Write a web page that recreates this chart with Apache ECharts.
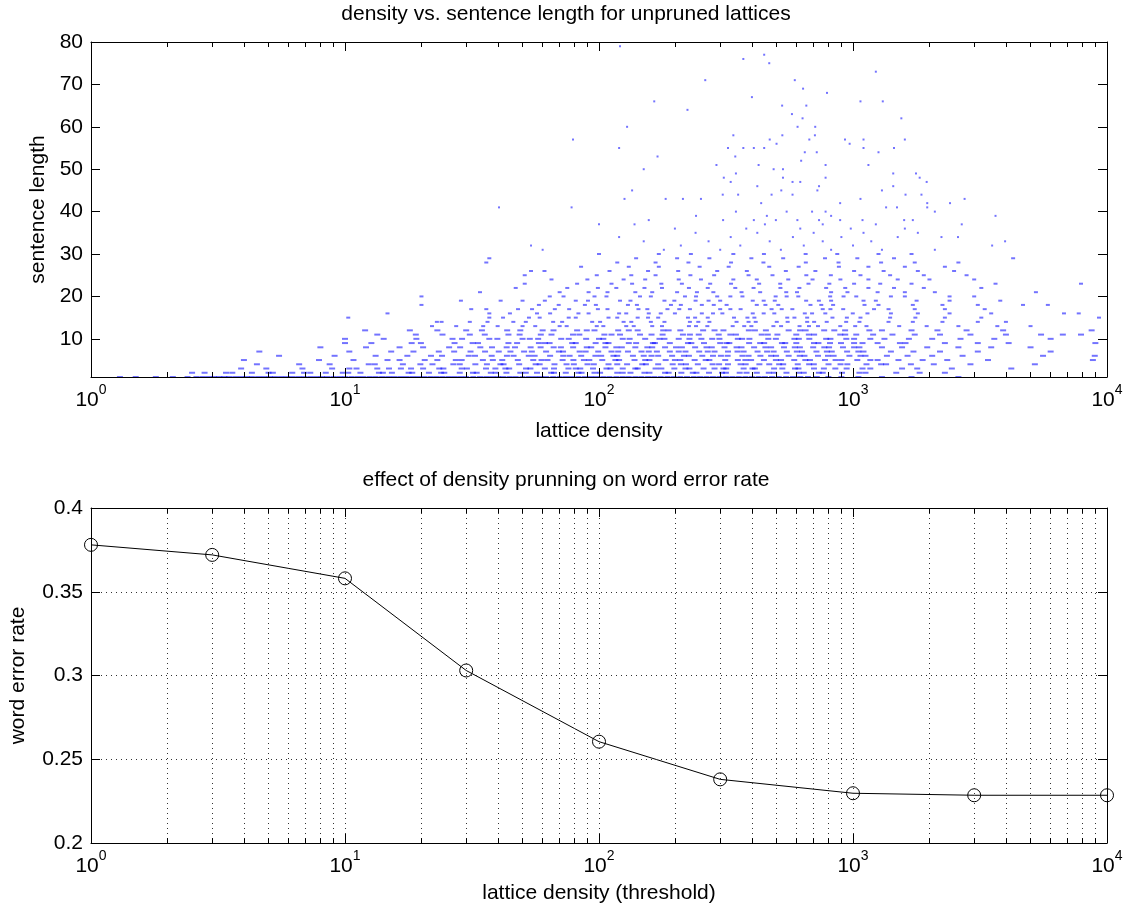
<!DOCTYPE html>
<html>
<head>
<meta charset="utf-8">
<title>lattice density</title>
<script src="https://cdn.jsdelivr.net/npm/echarts@6.0.0/dist/echarts.min.js"></script>
<style>
  html, body { margin: 0; padding: 0; background: #fff; }
  #chart { width: 1132px; height: 913px; }
</style>
</head>
<body>
<div id="chart"></div>
<script>
'use strict';

/* data: top plot, lattice density per sentence, grouped by sentence length */
var rowsShort = [
  [1, [1.3, 1.5, 1.8, 2.1, 2.4, 2.6, 2.75, 2.9, 3.05, 3.2, 3.35, 3.5, 3.7, 3.9, 4.1, 4.3, 4.55, 4.8, 5.05, 5.3, 5.6, 5.9, 6.2, 6.55, 6.9, 7.3, 7.7, 8.1, 8.5, 9, 9.5, 10, 10.6, 11.2, 11.8, 12.5, 13.2, 14, 14.8, 15.6, 16.5, 17.4, 18.4, 19.4, 20.5, 21.7, 22.9, 24.2, 25.6, 27, 28.5, 30, 32, 34, 36, 38, 40, 42, 44.5, 47, 50, 53, 56, 59, 62, 66, 70, 74, 78, 83, 88, 93, 98, 104, 110, 117, 124, 131, 139, 147, 156, 165, 175, 186, 197, 209, 222, 236, 250, 265, 281, 298, 316, 335, 355, 377, 400, 425, 450, 480, 510, 545, 580, 620, 665, 720, 800, 900, 1050, 1300, 1700, 2600]],
  [2, [2.5, 2.8, 3.4, 3.6, 4.3, 5.0, 5.2, 6.2, 6.9, 7.3, 8.4, 9.8, 10.3, 11.5, 13.6, 14.1, 15.3, 17.8, 18.4, 21.4, 23.9, 24.6, 28.3, 31.9, 33, 37.5, 39.2, 43.2, 49, 51.5, 57, 64.8, 66.5, 74, 83, 85.4, 96, 101, 118, 124, 133, 151, 158, 182, 188, 211, 234, 242, 271, 305, 316, 358, 381, 418, 466, 489, 547, 612, 640, 734, 760, 905, 1060, 1120, 1480, 1830, 2300]],
  [3, [3.9, 4.9, 6.8, 8.9, 10.4, 11.1, 13.4, 14.9, 16.6, 18.2, 20.3, 23.5, 24.4, 28.8, 30.2, 35.9, 39.1, 42.8, 44.3, 51.6, 53.7, 61.2, 66.5, 75.8, 81, 84.4, 94.7, 107, 111, 124, 139, 142, 167, 176, 198, 219, 227, 258, 285, 309, 317, 371, 402, 411, 489, 527, 591, 610, 702, 768, 852, 944, 1090, 1170, 1560, 1790, 2450, 4200]],
  [4, [4.5, 6.6, 8.7, 12.4, 13.1, 16.9, 19.8, 22.1, 26.7, 28.3, 32.6, 36.2, 40.9, 42.1, 48.5, 56.3, 58.4, 66.8, 74.5, 79.6, 90.1, 95.4, 109, 118, 129, 148, 153, 171, 195, 210, 220, 245, 280, 297, 322, 361, 378, 428, 468, 512, 531, 606, 672, 701, 801, 893, 950, 1130, 1290, 1350, 1690, 2080, 2900, 5200]],
  [5, [4, 7.9, 10.8, 14.7, 16.4, 20.6, 23.1, 27.3, 28.8, 34.9, 38.2, 41.6, 47.9, 55.1, 59.4, 62.7, 71.9, 79.3, 87.2, 91.6, 103, 116, 120, 138, 152, 158, 183, 199, 209, 238, 263, 272, 314, 352, 377, 397, 446, 497, 521, 587, 649, 677, 776, 854, 901, 1040, 1170, 1250, 1510, 1880, 2350, 3400, 8800]],
  [6, [5.5, 9.1, 13.2, 17.6, 21.8, 24.1, 30.7, 32.5, 37.8, 43.4, 46.1, 52.9, 55.8, 64.2, 72.3, 76.6, 85.1, 96.8, 102, 114, 118, 136, 150, 161, 171, 194, 216, 226, 255, 281, 302, 321, 367, 388, 432, 476, 498, 558, 617, 644, 728, 797, 839, 968, 1070, 1120, 1360, 1640, 2050, 2700, 5600, 8950]],
  [7, [4.6, 10.4, 15.2, 18.6, 23.4, 26.9, 31.2, 35.6, 40.3, 44.8, 50.7, 54.4, 61.9, 69.5, 72.2, 83.9, 88.6, 99.3, 112, 119, 130, 147, 157, 169, 190, 206, 219, 248, 268, 285, 322, 351, 371, 421, 459, 487, 549, 601, 630, 718, 789, 825, 948, 1050, 1100, 1410, 1730, 2200, 3100, 6000]],
  [8, [8, 12.1, 16.4, 20.3, 25.7, 28.4, 34.1, 37.9, 43.3, 46.7, 53.8, 58.9, 66.3, 70.8, 79.1, 89.5, 93.2, 106, 117, 123, 139, 155, 162, 182, 201, 212, 239, 265, 278, 312, 348, 364, 408, 452, 476, 535, 590, 618, 697, 771, 805, 913, 1010, 1060, 1300, 1560, 1960, 2600, 3500, 5000]],
  [9, [10, 12.7, 18.3, 19.9, 27, 31.8, 33.4, 44, 47.6, 58, 61.3, 63.9, 78.4, 81, 97, 106, 109, 131, 140, 163, 166, 190, 224, 231, 259, 300, 318, 326, 390, 431, 447, 525, 541, 598, 702, 731, 812, 897, 1010, 1090, 1250, 1530, 1610, 2300, 3100, 4100, 9000]],
  [10, [10, 14.2, 19.1, 26.5, 28.9, 37, 39.8, 50, 53.4, 57.6, 71, 76, 89, 100, 104, 124, 132, 152, 173, 181, 206, 227, 253, 279, 298, 352, 366, 391, 464, 497, 588, 612, 673, 784, 815, 941, 1010, 1170, 1330, 1660, 2050, 2650, 3600, 6000]]
];

var rowsMid = [
  [11, [13.4, 19, 24.2, 31, 35.5, 44, 48.7, 59, 65, 79, 83.7, 105, 112, 121, 145, 161, 178, 214, 228, 247, 296, 329, 346, 437, 462, 504, 598, 670, 703, 891, 932, 1030, 1200, 1430, 1750, 2200, 2900, 4000, 5500, 6700, 7900]],
  [12, [12, 18, 23.1, 30, 34.6, 43.5, 49, 60, 66.2, 82, 89.5, 96, 119, 131, 142, 179, 188, 209, 257, 285, 309, 389, 411, 454, 558, 619, 651, 770, 844, 931, 1160, 1300, 1700, 2150, 2800, 3900, 8700]],
  [13, [22, 27.4, 35, 39.9, 50, 56.1, 70, 74.6, 98, 104, 128, 137, 162, 177, 226, 241, 267, 336, 373, 398, 486, 521, 616, 671, 728, 891, 1020, 1130, 1520, 1950, 2600, 3700, 5000]],
  [14, [23, 24, 31, 36.4, 46, 51.5, 66, 71.6, 94, 101, 125, 134, 160, 181, 228, 246, 272, 348, 388, 414, 501, 553, 660, 703, 788, 940, 1060, 1380, 1720, 2250, 3100, 4000]],
  [15, [10.3, 37, 41.9, 53, 58.4, 76, 81, 109, 118, 142, 156, 171, 224, 239, 268, 340, 384, 409, 551, 588, 660, 830, 946, 1070, 1400, 1760, 2300, 3200, 9300]],
  [16, [14.7, 37, 44.6, 57, 64.2, 83, 91, 120, 128, 157, 175, 199, 254, 281, 306, 403, 445, 490, 646, 690, 778, 998, 1140, 1410, 1800, 2400, 3500, 6770, 7740]],
  [17, [31.4, 36, 48, 54.5, 67, 76.3, 99, 108, 143, 155, 186, 207, 228, 300, 329, 361, 478, 524, 577, 760, 815, 915, 1210, 1380, 1750, 2300, 3300]],
  [18, [20, 58, 69.4, 88, 97.2, 130, 141, 192, 210, 254, 283, 318, 418, 452, 508, 680, 750, 835, 1110, 1260, 1720, 2250, 3100, 4670, 5850]],
  [19, [28.6, 41, 50, 61.2, 81, 90.5, 121, 133, 181, 198, 240, 270, 300, 403, 445, 492, 654, 734, 820, 1100, 1230, 1780, 2400, 3800]],
  [20, [20, 64, 72.5, 96, 107, 145, 160, 218, 241, 292, 329, 367, 496, 548, 609, 813, 918, 1030, 1410, 1600, 2400, 3000]],
  [21, [34, 70, 91, 108, 139, 162, 203, 243, 282, 364, 431, 546, 602, 820, 951, 1250, 1600, 2100, 5250]],
  [22, [47, 75, 99, 117, 151, 177, 226, 268, 344, 406, 518, 615, 784, 932, 1150, 1450, 1900, 3200]],
  [23, [51, 82, 112, 135, 176, 212, 274, 331, 427, 517, 668, 807, 1010, 1280, 1700, 3640, 7900]],
  [24, [65, 90, 125, 152, 206, 252, 338, 418, 556, 693, 892, 1150, 1500, 2000, 3000]],
  [25, [51, 98, 134, 167, 229, 284, 388, 482, 655, 818, 1070, 1400, 1900, 2800]],
  [26, [54, 61, 110, 156, 205, 292, 382, 544, 711, 1010, 1320, 1800, 2500]],
  [27, [85, 131, 172, 249, 324, 468, 611, 880, 1150, 1600, 2300]],
  [28, [36, 118, 167, 225, 331, 444, 652, 877, 1290, 1750, 2600]],
  [29, [37, 140, 203, 272, 398, 531, 776, 1040, 1450, 4270]],
  [30, [100, 172, 230, 338, 446, 651, 867, 1260, 1700]]
];

/* long sentences, [density, length] */
var sparseLong = [
  [60, 31], [180, 31], [300, 31], [520, 31], [820, 31], [1300, 31], [2100, 31],
  [54, 32], [210, 32], [360, 32], [640, 32], [1000, 32], [3530, 32],
  [150, 33], [270, 33], [470, 33], [760, 33], [1180, 33], [3970, 33],
  [120, 34], [330, 34], [580, 34], [900, 34], [1500, 34], [2230, 34], [2590, 34],
  [240, 35], [420, 35], [700, 35], [1100, 35], [1800, 35],
  [199, 36], [380, 36], [620, 36], [980, 36], [1600, 36],
  [100, 37], [138, 37], [450, 37], [760, 37], [1230, 37], [2680, 37],
  [157, 38], [308, 38], [407, 38], [497, 38], [604, 38], [735, 38], [890, 38], [1090, 38], [1590, 38], [1720, 38],
  [241, 39], [458, 39], [820, 39], [3640, 39],
  [346, 40], [548, 40], [690, 40], [780, 40], [2100, 40],
  [40.4, 41], [78, 41], [1350, 41], [1490, 41], [1960, 41],
  [435, 42], [890, 42], [1960, 42], [2410, 42],
  [126, 43], [183, 43], [214, 43], [252, 43], [1070, 43], [2750, 43],
  [307, 44], [353, 44], [478, 44], [578, 44], [1610, 44], [1860, 44],
  [135, 45], [522, 45], [724, 45], [1300, 45],
  [420, 46], [735, 46], [1440, 46],
  [330, 47], [578, 47], [620, 47], [1950, 47],
  [310, 48], [530, 48], [780, 48], [1830, 48],
  [346, 49], [1440, 49], [1770, 49],
  [150, 50], [487, 50], [530, 50],
  [290, 51], [425, 51], [780, 51], [1150, 51],
  [625, 52], [170, 53], [344, 53],
  [646, 54], [720, 54], [1260, 54],
  [120, 55], [322, 55], [370, 55], [407, 55], [447, 55], [1100, 55], [1450, 55],
  [500, 56], [970, 56],
  [79, 57], [470, 57], [673, 57], [930, 57], [1100, 57], [1600, 57],
  [338, 58], [527, 58], [708, 58],
  [129, 60], [605, 60], [710, 60],
  [633, 62], [1550, 62], [575, 63], [223, 64],
  [526, 65], [655, 65], [165, 66], [1070, 66], [1310, 66],
  [400, 67], [790, 68], [636, 69], [262, 71], [590, 71],
  [1230, 73], [468, 75], [370, 76], [447, 77], [121, 79]
];

/* data: bottom plot */
var thresholds = [1, 3, 10, 30, 100, 300, 1000, 3000, 10000];
var wordErrorRate = [0.378, 0.372, 0.358, 0.303, 0.2605, 0.238, 0.2297, 0.2285, 0.2285];

/* tick values */
var lengthTicks = [10, 20, 30, 40, 50, 60, 70, 80];
var minorLogTicks = [2, 3, 4, 5, 6, 7, 8, 9, 20, 30, 40, 50, 60, 70, 80, 90,
  200, 300, 400, 500, 600, 700, 800, 900, 2000, 3000, 4000, 5000, 6000, 7000, 8000, 9000];

var scatterData = [];
rowsShort.concat(rowsMid).forEach(function (row) {
  row[1].forEach(function (d) { scatterData.push([d, row[0]]); });
});
sparseLong.forEach(function (p) { scatterData.push(p); });

var FONT = "'Liberation Sans', Arial, Helvetica, sans-serif";
var FS = 21;

var dotted = { color: '#333', width: 1, type: [1, 4] };

function logAxis(grid, pos, opts) {
  var ax = {
    type: 'log',
    logBase: 10,
    gridIndex: grid,
    position: pos,
    min: 1,
    max: 10000,
    z: 5,
    axisLine: { show: !opts.minor, onZero: false, lineStyle: { color: '#000', width: 1 } },
    axisTick: { show: true, inside: true, length: opts.minor ? 5 : 9, lineStyle: { color: '#000', width: 1 } },
    axisLabel: { show: false },
    splitLine: { show: !!opts.grid, lineStyle: dotted }
  };
  if (opts.minor) {
    ax.axisTick.customValues = minorLogTicks;
  }
  if (opts.label) {
    ax.axisLabel = {
      show: true,
      margin: 10,
      color: '#000',
      fontFamily: FONT,
      formatter: function (v) {
        var e = Math.round(Math.log(v) / Math.LN10);
        return '{b|10}{s|' + e + '}';
      },
      rich: {
        b: { fontSize: FS, lineHeight: 24, verticalAlign: 'bottom', fontFamily: FONT, color: '#000' },
        s: { fontSize: 14, lineHeight: 14, padding: [0, 0, 14, 0], verticalAlign: 'bottom', fontFamily: FONT, color: '#000' }
      }
    };
    ax.name = opts.name;
    ax.nameLocation = 'middle';
    ax.nameGap = opts.nameGap;
    ax.nameTextStyle = { fontSize: FS, fontFamily: FONT, color: '#000' };
  }
  return ax;
}

function valAxis(grid, pos, opts) {
  var ax = {
    type: 'value',
    gridIndex: grid,
    position: pos,
    min: opts.min,
    max: opts.max,
    z: 5,
    axisLine: { show: true, onZero: false, lineStyle: { color: '#000', width: 1 } },
    axisTick: { show: true, inside: true, length: 9, lineStyle: { color: '#000', width: 1 } },
    axisLabel: { show: false },
    splitLine: { show: !!opts.grid, lineStyle: dotted }
  };
  if (opts.interval) ax.interval = opts.interval;
  if (opts.ticks) ax.axisTick.customValues = opts.ticks;
  if (opts.label) {
    ax.axisLabel = { show: true, margin: 8, color: '#000', fontSize: FS, fontFamily: FONT };
    if (opts.ticks) ax.axisLabel.customValues = opts.ticks;
    ax.name = opts.name;
    ax.nameLocation = 'middle';
    ax.nameGap = opts.nameGap;
    ax.nameTextStyle = { fontSize: FS, fontFamily: FONT, color: '#000' };
  }
  return ax;
}

// dense rows get a wider dot so the runs read like the original marker cloud
function dotSize(val) {
  if (val[1] <= 12) return [6, 2];
  if (val[1] <= 30) return [4, 2];
  return [2, 2];
}

var chart = echarts.init(document.getElementById('chart'), null, { renderer: 'canvas' });

chart.setOption({
  animation: false,
  backgroundColor: '#fff',
  textStyle: { fontFamily: FONT },
  title: [
    { text: 'density vs. sentence length for unpruned lattices', left: 'center', top: 4, padding: 0,
      textStyle: { fontSize: FS, fontWeight: 'normal', color: '#000', fontFamily: FONT } },
    { text: 'effect of density prunning on word error rate', left: 'center', top: 470, padding: 0,
      textStyle: { fontSize: FS, fontWeight: 'normal', color: '#000', fontFamily: FONT } }
  ],
  grid: [
    { left: 91, right: 25, top: 42, height: 335, outerBoundsMode: 'none' },
    { left: 91, right: 25, top: 508, height: 335, outerBoundsMode: 'none' }
  ],
  xAxis: [
    logAxis(0, 'bottom', { label: true, name: 'lattice density', nameGap: 44 }),
    logAxis(0, 'bottom', { minor: true }),
    logAxis(0, 'top', {}),
    logAxis(0, 'top', { minor: true }),
    logAxis(1, 'bottom', { label: true, grid: true, name: 'lattice density (threshold)', nameGap: 40 }),
    logAxis(1, 'bottom', { minor: true, grid: true }),
    logAxis(1, 'top', {}),
    logAxis(1, 'top', { minor: true })
  ],
  yAxis: [
    valAxis(0, 'left', { min: 1, max: 80, ticks: lengthTicks, label: true, name: 'sentence length', nameGap: 42 }),
    valAxis(0, 'right', { min: 1, max: 80, ticks: lengthTicks }),
    valAxis(1, 'left', { min: 0.2, max: 0.4, interval: 0.05, label: true, grid: true, name: 'word error rate', nameGap: 62 }),
    valAxis(1, 'right', { min: 0.2, max: 0.4, interval: 0.05 })
  ],
  series: [
    {
      name: 'density',
      type: 'scatter',
      xAxisIndex: 0,
      yAxisIndex: 0,
      data: scatterData,
      symbol: 'rect',
      symbolSize: dotSize,
      large: false,
      progressive: 0,
      clip: false,
      itemStyle: { color: '#0000ff', opacity: 0.55 },
      z: 2
    },
    {
      name: 'word error rate',
      type: 'line',
      xAxisIndex: 4,
      yAxisIndex: 2,
      data: thresholds.map(function (t, i) { return [t, wordErrorRate[i]]; }),
      symbol: 'circle',
      symbolSize: 13,
      showSymbol: true,
      clip: false,
      lineStyle: { color: '#000', width: 1 },
      itemStyle: { color: 'rgba(0,0,0,0)', borderColor: '#000', borderWidth: 1 },
      z: 3
    }
  ]
});
</script>
</body>
</html>
